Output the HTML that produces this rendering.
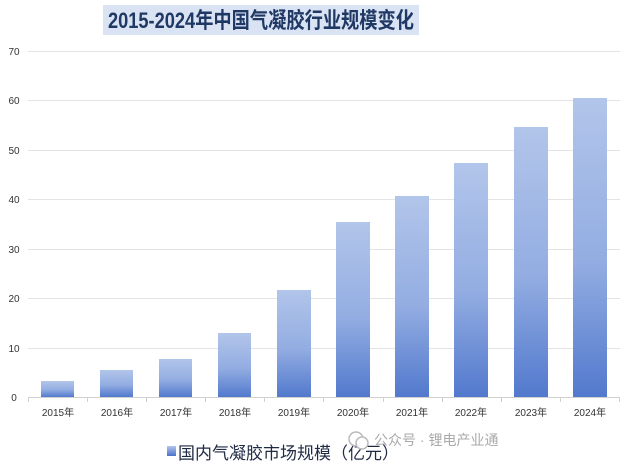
<!DOCTYPE html><html><head><meta charset="utf-8"><style>body{margin:0;background:#fff}</style></head><body>
<svg width="634" height="469" xmlns="http://www.w3.org/2000/svg" font-family="Liberation Sans, Noto Sans CJK SC, sans-serif">
<defs><linearGradient id="g" x1="0" y1="0" x2="0" y2="1"><stop offset="0" stop-color="#b2c5ea"/><stop offset="0.55" stop-color="#93ade2"/><stop offset="1" stop-color="#5279cd"/></linearGradient>
<linearGradient id="lg" x1="0" y1="0" x2="0" y2="1"><stop offset="0" stop-color="#b2c5ea"/><stop offset="1" stop-color="#4a73cb"/></linearGradient></defs>
<rect x="103" y="5" width="316" height="30" fill="#dae3f3"/>
<text x="108" y="28" textLength="306" lengthAdjust="spacingAndGlyphs" font-size="22" font-weight="bold" fill="#1f3864">2015-2024年中国气凝胶行业规模变化</text>
<g stroke="#e3e3e3" stroke-width="1">
<line x1="28" x2="620" y1="51.5" y2="51.5"/><line x1="28" x2="620" y1="100.5" y2="100.5"/><line x1="28" x2="620" y1="150.5" y2="150.5"/><line x1="28" x2="620" y1="199.5" y2="199.5"/><line x1="28" x2="620" y1="249.5" y2="249.5"/><line x1="28" x2="620" y1="298.5" y2="298.5"/><line x1="28" x2="620" y1="348.5" y2="348.5"/></g>
<g font-size="10" fill="#333" text-anchor="middle">
<text x="14" y="55">70</text><text x="14" y="104">60</text><text x="14" y="154">50</text><text x="14" y="203">40</text><text x="14" y="253">30</text><text x="14" y="302">20</text><text x="14" y="352">10</text><text x="14" y="401">0</text></g>
<g fill="url(#g)">
<rect x="41" y="381" width="33" height="16"/><rect x="100" y="370" width="33" height="27"/><rect x="159" y="359" width="33" height="38"/><rect x="218" y="333" width="33" height="64"/><rect x="277" y="290" width="34" height="107"/><rect x="336" y="222" width="34" height="175"/><rect x="395" y="196" width="34" height="201"/><rect x="454" y="163" width="34" height="234"/><rect x="514" y="127" width="34" height="270"/><rect x="573" y="98" width="34" height="299"/></g>
<line x1="28" x2="620" y1="397.5" y2="397.5" stroke="#d0d0d0"/>
<g stroke="#d0d0d0"><line x1="28.5" x2="28.5" y1="397" y2="402"/><line x1="87.5" x2="87.5" y1="397" y2="402"/><line x1="146.5" x2="146.5" y1="397" y2="402"/><line x1="205.5" x2="205.5" y1="397" y2="402"/><line x1="264.5" x2="264.5" y1="397" y2="402"/><line x1="323.5" x2="323.5" y1="397" y2="402"/><line x1="383.5" x2="383.5" y1="397" y2="402"/><line x1="442.5" x2="442.5" y1="397" y2="402"/><line x1="501.5" x2="501.5" y1="397" y2="402"/><line x1="560.5" x2="560.5" y1="397" y2="402"/><line x1="619.5" x2="619.5" y1="397" y2="402"/></g>
<g font-size="10" fill="#333" text-anchor="middle">
<text x="58" y="416">2015年</text><text x="117" y="416">2016年</text><text x="176" y="416">2017年</text><text x="235" y="416">2018年</text><text x="294" y="416">2019年</text><text x="353" y="416">2020年</text><text x="412" y="416">2021年</text><text x="471" y="416">2022年</text><text x="531" y="416">2023年</text><text x="590" y="416">2024年</text></g>
<rect x="167" y="446" width="9" height="10" fill="url(#lg)"/>
<text x="178" y="459" font-size="17" fill="#1f2a44">国内气凝胶市场规模（亿元）</text>
<circle cx="356" cy="439" r="7" fill="none" stroke="#bbb" stroke-width="1.5"/><circle cx="362" cy="443" r="6" fill="#fff" stroke="#bbb" stroke-width="1.5"/>
<text x="374" y="445" font-size="14" fill="#aaa">公众号 · 锂电产业通</text>
</svg></body></html>
